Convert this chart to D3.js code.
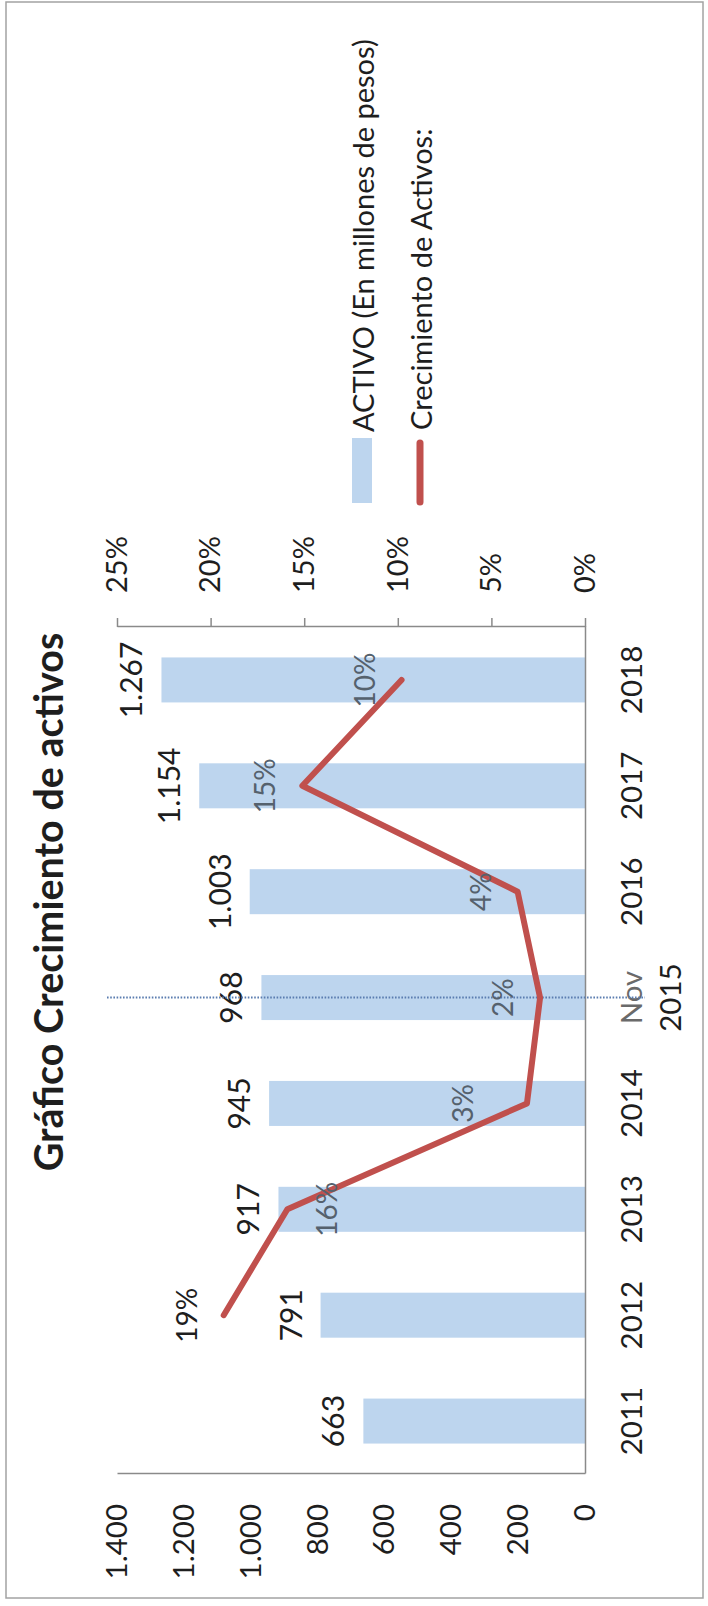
<!DOCTYPE html>
<html>
<head>
<meta charset="utf-8">
<script src="https://cdn.jsdelivr.net/npm/d3@7/dist/d3.min.js"></script>
<style>
  html, body { margin: 0; padding: 0; background: #ffffff; }
  svg { display: block; }
</style>
</head>
<body>
<script>
// Activos por año (millones de pesos) y su crecimiento anual (%)
const categories = ["2011", "2012", "2013", "2014", "Nov 2015", "2016", "2017", "2018"];
const activo = [663, 791, 917, 945, 968, 1003, 1154, 1267];
const crecimiento = [null, 19.3, 15.9, 3.1, 2.4, 3.6, 15.1, 9.8];
const leftTicks = [0, 200, 400, 600, 800, 1000, 1200, 1400];
const rightTicks = [0, 5, 10, 15, 20, 25];

const titleText = "Gráfico Crecimiento de activos";
const legendBars = "ACTIVO (En millones de pesos)";
const legendLine = "Crecimiento de Activos:";

const PAGE_W = 708, PAGE_H = 1606;
const FONT = "Lato, 'Open Sans', sans-serif";
const BAR_COLOR = "#bdd5ee";
const LINE_COLOR = "#c0504d";
const AXIS_COLOR = "#8a8a8a";
const TEXT_COLOR = "#1e1e1e";

const locale = d3.formatLocale({ decimal: ",", thousands: ".", grouping: [3], currency: ["$", ""] });
const fmtThousands = locale.format(",d");

const svg = d3.select("body").append("svg")
  .attr("width", PAGE_W)
  .attr("height", PAGE_H);

svg.append("rect")
  .attr("x", 0).attr("y", 0)
  .attr("width", PAGE_W).attr("height", PAGE_H)
  .attr("fill", "#ffffff");

// Outer chart frame
svg.append("rect")
  .attr("x", 6).attr("y", 2)
  .attr("width", 697).attr("height", 1596)
  .attr("fill", "none")
  .attr("stroke", "#a3a3a3")
  .attr("stroke-width", 1.5);

// The chart is laid out landscape and turned a quarter turn on the page
const g = svg.append("g")
  .attr("transform", `translate(0,${PAGE_H}) rotate(-90)`);

const plot = { left: 132, right: 979, top: 117, bottom: 585 };

const x = d3.scaleBand()
  .domain(categories)
  .range([plot.left, plot.right])
  .paddingInner(0.575)
  .paddingOuter(0.2875);

const yL = d3.scaleLinear().domain([0, 1400]).range([plot.bottom, plot.top]);
const yR = d3.scaleLinear().domain([0, 25]).range([plot.bottom, plot.top]);

const cx = c => x(c) + x.bandwidth() / 2;

function styleAxis(sel, size) {
  sel.attr("font-family", FONT).attr("font-size", size);
  sel.selectAll("path.domain").attr("stroke", AXIS_COLOR).attr("stroke-width", 1.5);
  sel.selectAll(".tick line").attr("stroke", AXIS_COLOR).attr("stroke-width", 1.5);
  sel.selectAll(".tick text").attr("fill", TEXT_COLOR);
}

// Bars
g.append("g")
  .selectAll("rect")
  .data(activo)
  .join("rect")
  .attr("x", (d, i) => x(categories[i]))
  .attr("width", x.bandwidth())
  .attr("y", d => yL(d))
  .attr("height", d => yL(0) - yL(d))
  .attr("fill", BAR_COLOR);

// Primary value axis
const axL = g.append("g")
  .attr("transform", `translate(${plot.left},0)`)
  .call(d3.axisLeft(yL).tickValues(leftTicks).tickSize(0).tickPadding(30).tickFormat(fmtThousands));
styleAxis(axL, 29.5);

// Growth axis
const axR = g.append("g")
  .attr("transform", `translate(${plot.right},0)`)
  .call(d3.axisRight(yR).tickValues(rightTicks).tickSize(9).tickSizeOuter(0).tickPadding(25).tickFormat(d => d + "%"));
styleAxis(axR, 29);

// Category axis with two-line label support
const axB = g.append("g")
  .attr("transform", `translate(0,${plot.bottom})`)
  .call(d3.axisBottom(x).tickSize(0).tickPadding(36));
styleAxis(axB, 29.5);
axB.selectAll(".tick text").each(function (d) {
  const t = d3.select(this);
  const parts = d.split(" ");
  t.text(null);
  parts.forEach((p, k) => {
    t.append("tspan")
      .attr("x", 0)
      .attr("dy", k === 0 ? "0.71em" : "1.32em")
      .attr("fill", parts.length > 1 && k === 0 ? "#6a6a6a" : TEXT_COLOR)
      .text(p);
  });
});

// Bar value labels
g.append("g")
  .attr("font-family", FONT)
  .attr("font-size", 30)
  .attr("fill", TEXT_COLOR)
  .attr("text-anchor", "middle")
  .selectAll("text")
  .data(activo)
  .join("text")
  .attr("x", (d, i) => cx(categories[i]))
  .attr("y", d => yL(d) - 19)
  .text(d => fmtThousands(d));

// Reference line at the November 2015 cut
g.append("line")
  .attr("x1", cx("Nov 2015")).attr("x2", cx("Nov 2015"))
  .attr("y1", 107).attr("y2", 645)
  .attr("stroke", "#5b7db0")
  .attr("stroke-width", 2)
  .attr("stroke-dasharray", "1.6,1.6");

// Growth line
const growth = categories.map((c, i) => ({ c, v: crecimiento[i], bar: activo[i] }))
  .filter(d => d.v !== null);

g.append("path")
  .datum(growth)
  .attr("fill", "none")
  .attr("stroke", LINE_COLOR)
  .attr("stroke-width", 6)
  .attr("stroke-linejoin", "round")
  .attr("stroke-linecap", "round")
  .attr("d", d3.line().x(d => cx(d.c)).y(d => yR(d.v)));

// Growth labels: above the point, with a few moved clear of the line
const labelShift = { "2013": 50, "2014": -54 };
const labelY = d => yR(d.v) + (labelShift[d.c] !== undefined ? labelShift[d.c] : -27);
g.append("g")
  .attr("font-family", FONT)
  .attr("font-size", 28)
  .attr("text-anchor", "middle")
  .selectAll("text")
  .data(growth)
  .join("text")
  .attr("x", d => cx(d.c))
  .attr("y", labelY)
  .attr("fill", d => labelY(d) - 10 > yL(d.bar) ? "#55616d" : TEXT_COLOR)
  .text(d => Math.round(d.v) + "%");

// Title
g.append("text")
  .attr("x", 704)
  .attr("y", 63)
  .attr("text-anchor", "middle")
  .attr("font-family", FONT)
  .attr("font-weight", 700)
  .attr("font-size", 39.5)
  .attr("fill", TEXT_COLOR)
  .text(titleText);

// Legend
const legend = g.append("g")
  .attr("font-family", FONT)
  .attr("font-size", 29)
  .attr("fill", TEXT_COLOR);

legend.append("rect")
  .attr("x", 1103).attr("y", 352)
  .attr("width", 65).attr("height", 20)
  .attr("fill", BAR_COLOR);
legend.append("text")
  .attr("x", 1174).attr("y", 362)
  .attr("dominant-baseline", "central")
  .text(legendBars);

legend.append("line")
  .attr("x1", 1104).attr("x2", 1163)
  .attr("y1", 420).attr("y2", 420)
  .attr("stroke", LINE_COLOR)
  .attr("stroke-width", 7)
  .attr("stroke-linecap", "round");
legend.append("text")
  .attr("x", 1176).attr("y", 420)
  .attr("dominant-baseline", "central")
  .text(legendLine);
</script>
</body>
</html>
